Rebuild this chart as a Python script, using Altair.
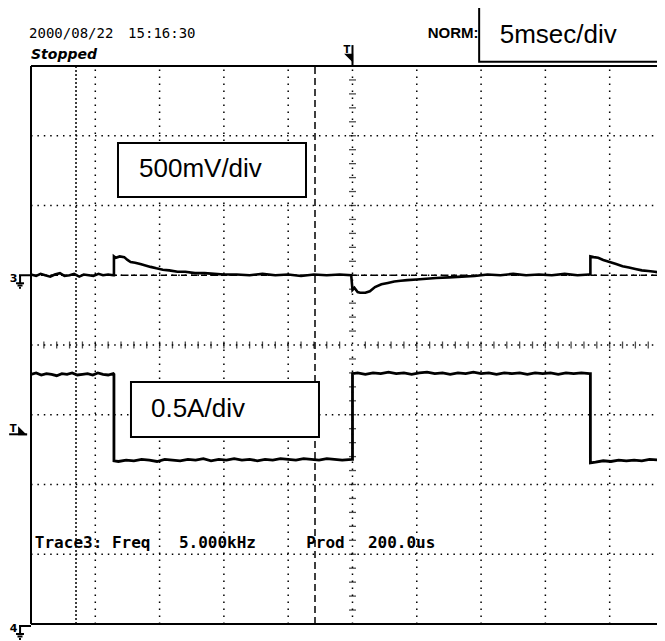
import altair as alt
import pandas as pd

# ---- data (x in divisions from left frame, y in divisions from bottom frame) ----
VOLT = [
    (0.00, 5.01), (0.08, 4.99), (0.15, 5.02), (0.22, 5.00), (0.30, 4.98), (0.37, 5.01),
    (0.45, 5.03), (0.52, 4.99), (0.60, 5.00), (0.67, 5.02), (0.75, 4.98), (0.82, 5.01),
    (0.90, 5.00), (0.97, 4.99), (1.05, 5.02), (1.12, 5.00), (1.20, 5.01), (1.28, 5.00),
    (1.29, 5.00), (1.29, 5.27), (1.32, 5.25), (1.38, 5.27), (1.45, 5.26), (1.50, 5.22),
    (1.55, 5.19), (1.62, 5.18), (1.70, 5.16), (1.78, 5.14), (1.86, 5.12), (1.95, 5.10),
    (2.05, 5.08), (2.15, 5.07), (2.28, 5.05), (2.40, 5.05), (2.55, 5.03), (2.70, 5.03),
    (2.85, 5.02), (3.00, 5.01), (3.20, 5.01), (3.40, 5.00), (3.60, 5.02), (3.80, 5.00),
    (4.00, 5.01), (4.20, 4.99), (4.40, 5.01), (4.60, 5.00), (4.80, 5.01), (4.98, 5.00),
    (5.00, 4.79), (5.03, 4.82), (5.08, 4.76), (5.12, 4.75), (5.20, 4.75), (5.27, 4.77),
    (5.35, 4.83), (5.45, 4.87), (5.55, 4.89), (5.65, 4.91), (5.75, 4.92), (5.85, 4.93),
    (6.00, 4.94), (6.15, 4.95), (6.30, 4.96), (6.50, 4.97), (6.70, 4.98), (6.90, 4.99),
    (7.10, 5.01), (7.30, 5.00), (7.50, 5.02), (7.70, 5.00), (7.90, 5.01), (8.10, 5.00),
    (8.30, 5.02), (8.50, 5.00), (8.68, 5.01), (8.70, 5.01), (8.70, 5.27), (8.75, 5.26),
    (8.82, 5.25), (8.90, 5.22), (9.00, 5.19), (9.10, 5.16), (9.20, 5.13), (9.30, 5.11),
    (9.40, 5.09), (9.50, 5.07), (9.60, 5.06), (9.70, 5.05), (9.77, 5.04),
]

CUR = [
    (0.00, 3.58), (0.08, 3.60), (0.16, 3.57), (0.24, 3.59), (0.32, 3.58), (0.40, 3.56),
    (0.48, 3.59), (0.56, 3.58), (0.64, 3.60), (0.72, 3.57), (0.80, 3.58), (0.88, 3.59),
    (0.96, 3.57), (1.04, 3.60), (1.12, 3.58), (1.20, 3.57), (1.28, 3.59),
    (1.29, 3.58), (1.29, 2.34),
    (1.36, 2.33), (1.48, 2.35), (1.60, 2.34), (1.72, 2.36), (1.84, 2.35), (1.96, 2.33),
    (2.08, 2.36), (2.20, 2.35), (2.32, 2.34), (2.44, 2.36), (2.56, 2.35), (2.68, 2.37),
    (2.80, 2.34), (2.92, 2.36), (3.04, 2.35), (3.16, 2.37), (3.28, 2.35), (3.40, 2.36),
    (3.52, 2.34), (3.64, 2.36), (3.76, 2.35), (3.88, 2.37), (4.00, 2.36), (4.12, 2.35),
    (4.24, 2.37), (4.36, 2.36), (4.48, 2.35), (4.60, 2.37), (4.72, 2.36), (4.84, 2.35),
    (4.99, 2.36),
    (5.00, 2.36), (5.00, 3.59),
    (5.08, 3.60), (5.20, 3.58), (5.32, 3.60), (5.44, 3.59), (5.56, 3.61), (5.68, 3.59),
    (5.80, 3.60), (5.92, 3.58), (6.04, 3.60), (6.16, 3.61), (6.28, 3.59), (6.40, 3.60),
    (6.52, 3.58), (6.64, 3.60), (6.76, 3.59), (6.88, 3.61), (7.00, 3.59), (7.12, 3.60),
    (7.24, 3.58), (7.36, 3.60), (7.48, 3.59), (7.60, 3.60), (7.72, 3.58), (7.84, 3.60),
    (7.96, 3.59), (8.08, 3.60), (8.20, 3.58), (8.32, 3.60), (8.44, 3.59), (8.56, 3.60),
    (8.69, 3.59),
    (8.70, 3.59), (8.70, 2.31),
    (8.78, 2.32), (8.90, 2.34), (9.02, 2.33), (9.14, 2.35), (9.26, 2.34), (9.38, 2.35),
    (9.50, 2.34), (9.62, 2.36), (9.77, 2.35),
]

X_MAX = 9.736
V_GRID = [1, 2, 3, 4, 5, 6, 7, 8, 9]
H_GRID = [1, 2, 3, 4, 5, 6, 7]
CENTER_X = 5.0
CENTER_Y = 4.0
TICKS_Y = [0.2, 0.4, 0.6, 0.8, 1.0, 1.2, 1.4, 1.6, 1.8, 2.0, 2.2, 2.4, 2.6, 2.8, 3.0, 3.2, 3.4,
           3.6, 3.8, 4.2, 4.4, 4.6, 4.8, 5.0, 5.2, 5.4, 5.6, 5.8, 6.0, 6.2, 6.4, 6.6, 6.8, 7.0,
           7.2, 7.4, 7.6, 7.8]
TICKS_X = [0.2, 0.4, 0.6, 0.8, 1.0, 1.2, 1.4, 1.6, 1.8, 2.0, 2.2, 2.4, 2.6, 2.8, 3.0, 3.2, 3.4,
           3.6, 3.8, 4.0, 4.2, 4.4, 4.6, 4.8, 5.2, 5.4, 5.6, 5.8, 6.0, 6.2, 6.4, 6.6, 6.8, 7.0,
           7.2, 7.4, 7.6, 7.8, 8.0, 8.2, 8.4, 8.6, 8.8, 9.0, 9.2, 9.4, 9.6]
CURSOR_A = 0.70
CURSOR_B = 4.417
CH3_GROUND = 5.0

# solid segments: frame, ground symbols, trigger marks  (x, x2, y, y2)
SEGMENTS = [
    (0.0, 10.0, 8.0, 8.0), (0.0, 0.0, 0.0, 8.0), (0.0, 10.0, 0.0, 0.0),
    (-0.187, 0.0, 5.0, 5.0), (-0.17, -0.17, 5.0, 4.885),
    (-0.233, -0.109, 4.885, 4.885), (-0.21, -0.132, 4.853, 4.853), (-0.187, -0.156, 4.82, 4.82),
    (-0.187, 0.0, -0.029, -0.029), (-0.17, -0.17, -0.029, -0.143),
    (-0.233, -0.109, -0.143, -0.143), (-0.21, -0.132, -0.179, -0.179), (-0.187, -0.156, -0.215, -0.215),
    (-0.34, -0.06, 2.72, 2.72),
    (5.0, 5.0, 8.0, 8.30),
]

BOXES = [(1.353, 4.277, 6.896, 6.122), (1.555, 4.479, 3.47, 2.68), (6.97, 10.5, 8.85, 8.06)]
BIG_LABELS = [("500mV/div", 1.68, 6.41), ("0.5A/div", 1.866, 2.97), ("5msec/div", 7.29, 8.33)]
HEADER = [("2000/08/22", -0.03, 8.40), ("15:16:30", 1.51, 8.40)]
NORM = [("NORM:", 6.17, 8.40)]
STATUS = [("Stopped", 0.0, 8.10)]
MEAS = [("Trace3: Freq", 0.06, 1.09), ("5.000kHz", 2.30, 1.09), ("Prod", 4.28, 1.09), ("200.0us", 5.24, 1.09)]
CH_NUM = [("3", -0.33, 4.90), ("4", -0.33, -0.115)]
TRIG_T = [("T", -0.33, 2.75), ("T", 4.86, 8.19)]
TRI_LEFT = [(-0.13, 2.77)]
TRI_TOP = [(4.94, 8.11)]

XS = alt.Scale(domain=[0, X_MAX], nice=False, zero=False)
YS = alt.Scale(domain=[0, 8], nice=False, zero=False)


def X(f="x"):
    return alt.X(f"{f}:Q", scale=XS, axis=None)


def Y(f="y"):
    return alt.Y(f"{f}:Q", scale=YS, axis=None)


def texts(rows):
    return pd.DataFrame(rows, columns=["text", "x", "y"])


layers = []

# dotted grid
vg = pd.DataFrame({"x": V_GRID, "y": 0.0, "y2": 8.0})
layers.append(alt.Chart(vg).mark_rule(color="black", strokeWidth=1.5, strokeDash=[1.5, 5.5]).encode(
    x=X(), y=Y(), y2="y2:Q"))
hg = pd.DataFrame({"y": H_GRID, "x": 0.0, "x2": 10.0})
layers.append(alt.Chart(hg).mark_rule(color="black", strokeWidth=1.5, strokeDash=[1.5, 4.9]).encode(
    x=X(), x2="x2:Q", y=Y()))

# center ticks
ty = pd.DataFrame({"x": CENTER_X, "y": TICKS_Y})
layers.append(alt.Chart(ty).mark_tick(orient="horizontal", size=7, thickness=1.3, color="black").encode(
    x=X(), y=Y()))
tx = pd.DataFrame({"x": TICKS_X, "y": CENTER_Y})
layers.append(alt.Chart(tx).mark_tick(orient="vertical", size=7, thickness=1.3, color="black").encode(
    x=X(), y=Y()))

# cursors and ground line
ca = pd.DataFrame({"x": [CURSOR_A], "y": [0.0], "y2": [8.0]})
layers.append(alt.Chart(ca).mark_rule(color="black", strokeWidth=1.5, strokeDash=[2, 2]).encode(
    x=X(), y=Y(), y2="y2:Q"))
cb = pd.DataFrame({"x": [CURSOR_B], "y": [0.0], "y2": [8.0]})
layers.append(alt.Chart(cb).mark_rule(color="black", strokeWidth=1.5, strokeDash=[7, 4]).encode(
    x=X(), y=Y(), y2="y2:Q"))
gl = pd.DataFrame({"x": [0.0], "x2": [10.0], "y": [CH3_GROUND]})
layers.append(alt.Chart(gl).mark_rule(color="black", strokeWidth=1.3, strokeDash=[6, 4]).encode(
    x=X(), x2="x2:Q", y=Y()))

# traces
vdf = pd.DataFrame(VOLT, columns=["x", "y"]).reset_index().rename(columns={"index": "i"})
layers.append(alt.Chart(vdf).mark_line(color="black", strokeWidth=2.6).encode(
    x=X(), y=Y(), order="i:Q"))
cdf = pd.DataFrame(CUR, columns=["x", "y"]).reset_index().rename(columns={"index": "i"})
layers.append(alt.Chart(cdf).mark_line(color="black", strokeWidth=2.8).encode(
    x=X(), y=Y(), order="i:Q"))

# boxes
bdf = pd.DataFrame(BOXES, columns=["x", "x2", "y", "y2"])
layers.append(alt.Chart(bdf).mark_rect(fill="white", stroke="black", strokeWidth=2).encode(
    x=X(), x2="x2:Q", y=Y(), y2="y2:Q"))

# solid segments
sdf = pd.DataFrame(SEGMENTS, columns=["x", "x2", "y", "y2"])
layers.append(alt.Chart(sdf).mark_rule(color="black", strokeWidth=2).encode(
    x=X(), x2="x2:Q", y=Y(), y2="y2:Q"))

# text layers
def text_layer(rows, **kw):
    return alt.Chart(texts(rows)).mark_text(align="left", baseline="alphabetic", color="black", **kw).encode(
        x=X(), y=Y(), text="text:N")

layers.append(text_layer(BIG_LABELS, font="Liberation Sans", fontSize=26))
layers.append(text_layer(HEADER, font="DejaVu Sans Mono", fontSize=14))
layers.append(text_layer(NORM, font="Liberation Sans", fontSize=15, fontWeight="bold"))
layers.append(text_layer(STATUS, font="DejaVu Sans", fontSize=14, fontWeight="bold", fontStyle="italic"))
layers.append(text_layer(MEAS, font="DejaVu Sans Mono", fontSize=16, fontWeight="bold"))
layers.append(text_layer(CH_NUM, font="DejaVu Sans", fontSize=11, fontWeight="bold"))
layers.append(text_layer(TRIG_T, font="DejaVu Sans", fontSize=10, fontWeight="bold"))

# trigger triangles
tl = pd.DataFrame(TRI_LEFT, columns=["x", "y"])
layers.append(alt.Chart(tl).mark_point(shape="M-1,-1L-1,1L1,1Z", filled=True, size=81, color="black", opacity=1).encode(
    x=X(), y=Y()))
tt = pd.DataFrame(TRI_TOP, columns=["x", "y"])
layers.append(alt.Chart(tt).mark_point(shape="M-1,-1L1,-1L1,1Z", filled=True, size=81, color="black", opacity=1).encode(
    x=X(), y=Y()))

chart = alt.layer(*layers).properties(
    width=626,
    height=558,
    padding={"left": 23, "top": 58, "right": 0, "bottom": 17},
    autosize=alt.AutoSizeParams(type="none"),
    background="white",
).configure_view(strokeWidth=0)

chart.save("out.html", embed_options={"renderer": "svg", "actions": False})
